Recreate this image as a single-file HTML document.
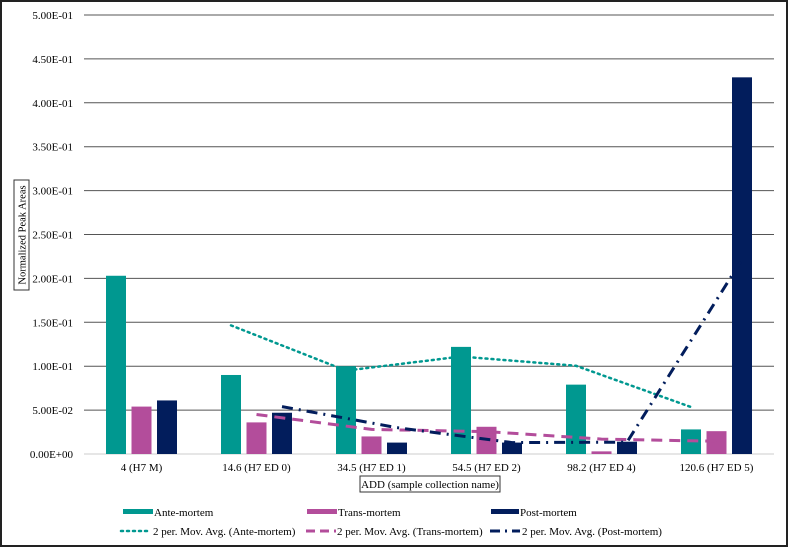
<!DOCTYPE html>
<html><head><meta charset="utf-8"><style>
body{margin:0;background:#fff}
svg{display:block;font-family:"Liberation Serif",serif}
</style></head><body>
<svg id="c" width="790" height="548" viewBox="0 0 790 548">
<rect x="1" y="1" width="786" height="545" fill="#fff" stroke="#222" stroke-width="2"/>
<g id="grid"></g>
<g id="ylab" font-size="11" text-anchor="end" fill="#000"></g>
<g id="bars"></g>
<g id="ma"></g>
<g id="xlab" font-size="11" text-anchor="middle"></g>
<g>
<rect x="14" y="180" width="15" height="110" fill="none" stroke="#333" stroke-width="1"/>
<text transform="translate(25.5,235) rotate(-90)" font-size="10.5" text-anchor="middle">Normalized Peak Areas</text>
</g>
<g>
<rect x="360" y="476" width="140" height="16" fill="none" stroke="#333" stroke-width="1"/>
<text x="430" y="488" font-size="11" text-anchor="middle">ADD (sample collection name)</text>
</g>
<g font-size="11">
<g><rect x="123" y="509" width="30" height="5" fill="#009890"/><text x="154" y="516">Ante-mortem</text></g>
<g><rect x="307" y="509" width="30" height="5" fill="#b34d9b"/><text x="338" y="516">Trans-mortem</text></g>
<g><rect x="491" y="509" width="28" height="5" fill="#021d5c"/><text x="520" y="516">Post-mortem</text></g>
<g><line x1="121" y1="531" x2="151" y2="531" stroke="#009890" stroke-width="2.5" stroke-dasharray="2 4" stroke-linecap="round"/><text x="153" y="535">2 per. Mov. Avg. (Ante-mortem)</text></g>
<g><line x1="306" y1="531" x2="336" y2="531" stroke="#b34d9b" stroke-width="3" stroke-dasharray="9 5"/><text x="337" y="535">2 per. Mov. Avg. (Trans-mortem)</text></g>
<g><line x1="490" y1="531" x2="520" y2="531" stroke="#021d5c" stroke-width="3" stroke-dasharray="10 5 2 5"/><text x="522" y="535">2 per. Mov. Avg. (Post-mortem)</text></g>
</g>
</svg>
<script>
const categories=["4 (H7 M)","14.6 (H7 ED 0)","34.5 (H7 ED 1)","54.5 (H7 ED 2)","98.2 (H7 ED 4)","120.6 (H7 ED 5)"];
const ante=[0.203,0.090,0.100,0.122,0.079,0.028];
const trans=[0.054,0.036,0.020,0.031,0.003,0.026];
const post=[0.061,0.047,0.013,0.013,0.014,0.429];
const yTicks=[0,0.05,0.1,0.15,0.2,0.25,0.3,0.35,0.4,0.45,0.5];
const yTickLabels=["0.00E+00","5.00E-02","1.00E-01","1.50E-01","2.00E-01","2.50E-01","3.00E-01","3.50E-01","4.00E-01","4.50E-01","5.00E-01"];
const NS="http://www.w3.org/2000/svg";
const X0=84,X1=774,Y0=454,YT=15;
const cw=(X1-X0)/categories.length;
const y=v=>Y0-(v/0.5)*(Y0-YT);
const xc=i=>X0+cw*(i+0.5);
function mk(tag,attrs,parent){const e=document.createElementNS(NS,tag);for(const k in attrs)e.setAttribute(k,attrs[k]);document.getElementById(parent).appendChild(e);return e;}
yTicks.forEach((t,i)=>{
  const l=mk('line',{x1:X0,x2:X1,y1:y(t),y2:y(t),stroke:i==0?'#ccc':'#555','stroke-width':1},'grid');
  
  
  const tx=mk('text',{x:73,y:y(t)+4},'ylab');tx.textContent=yTickLabels[i];
  
  
});
categories.forEach((c,i)=>{
  const t=mk('text',{x:xc(i),y:471},'xlab');t.textContent=c;
  
  
});
const series=[[ante,'#009890',-25.5,'ante'],[trans,'#b34d9b',0,'trans'],[post,'#021d5c',25.5,'post']];
series.forEach(([d,col,off,nm])=>{
  d.forEach((v,i)=>{
    const r=mk('rect',{x:xc(i)+off-10,y:y(v),width:20,height:Y0-y(v),fill:col},'bars');
    
    
  });
});
const styles={ante:['2.5','2 4','round'],trans:['3','11 7','butt'],post:['3','11 6 2 6','butt']};
series.forEach(([d,col,off,nm])=>{
  const pts=[];
  for(let i=1;i<d.length;i++)pts.push((xc(i)+off)+','+y((d[i-1]+d[i])/2));
  const s=styles[nm];
  const p=mk('polyline',{points:pts.join(' '),fill:'none',stroke:col,'stroke-width':s[0],'stroke-dasharray':s[1],'stroke-linecap':s[2]},'ma');
  
  
});
</script>
</body></html>
